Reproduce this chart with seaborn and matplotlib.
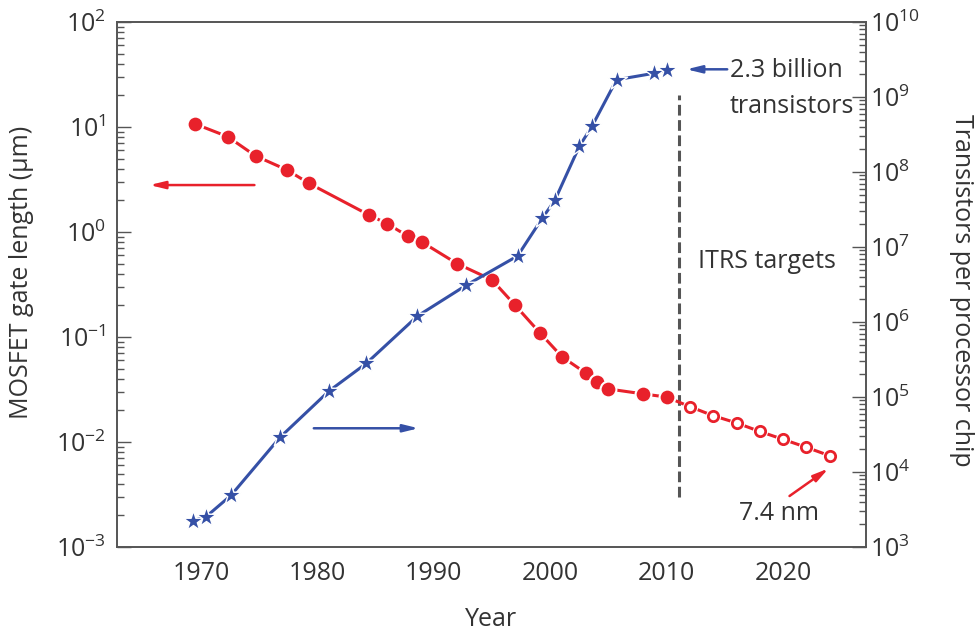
import matplotlib
matplotlib.use("Agg")
import matplotlib.pyplot as plt
import matplotlib.ticker as mticker
import seaborn as sns

# data
gate_years = [1969.5, 1972.3, 1974.7, 1977.4, 1979.3, 1984.4, 1986.0, 1987.8, 1989.0,
              1992.0, 1995.0, 1997.0, 1999.1, 2001.0, 2003.1, 2004.0, 2005.0, 2008.0, 2010.0]
gate_um = [10.7, 8.1, 5.3, 3.9, 2.9, 1.46, 1.2, 0.91, 0.80,
           0.50, 0.35, 0.20, 0.11, 0.065, 0.045, 0.037, 0.032, 0.0287, 0.0268]
itrs_years = [2012, 2014, 2016, 2018, 2020, 2022, 2024]
itrs_um = [0.0217, 0.0178, 0.0152, 0.0126, 0.0106, 0.0089, 0.0074]

chip_years = [1969.3, 1970.4, 1972.6, 1976.8, 1981.0, 1984.2, 1988.6, 1992.8,
              1997.2, 1999.3, 2000.4, 2002.5, 2003.6, 2005.7, 2008.9, 2010.0]
chip_count = [2250, 2500, 4900, 2.9e4, 1.2e5, 2.8e5, 1.2e6, 3.1e6,
              7.6e6, 2.4e7, 4.2e7, 2.2e8, 4.1e8, 1.7e9, 2.07e9, 2.3e9]

RED = "#e8212b"
BLUE = "#3550a6"
TEXT = "#333333"
AXC = "#555555"

sns.set_style("white")
plt.rcParams["font.family"] = ["Open Sans", "DejaVu Sans"]
plt.rcParams.update({"mathtext.fontset": "custom", "mathtext.rm": "Open Sans",
                     "mathtext.it": "Open Sans:italic", "mathtext.bf": "Open Sans:bold",
                     "text.color": TEXT, "axes.labelcolor": TEXT,
                     "xtick.color": AXC, "ytick.color": AXC,
                     "xtick.labelcolor": TEXT, "ytick.labelcolor": TEXT})
FS = 18

fig = plt.figure(figsize=(9.75, 6.34), dpi=100)
ax = fig.add_axes([0.12, 0.1372, 0.768, 0.8281])
ax2 = ax.twinx()

# gate length (left axis)
sns.lineplot(x=gate_years + itrs_years, y=gate_um + itrs_um, color=RED,
             lw=2.2, ax=ax, zorder=2)
sns.scatterplot(x=gate_years, y=gate_um, color=RED, s=130, edgecolor="white",
                linewidth=1.5, ax=ax, zorder=3)
sns.scatterplot(x=itrs_years, y=itrs_um, color="white", s=120,
                edgecolor="white", linewidth=0, ax=ax, zorder=3)
sns.scatterplot(x=itrs_years, y=itrs_um, color="white", s=55,
                edgecolor=RED, linewidth=2, ax=ax, zorder=4)

# transistor count (right axis)
sns.lineplot(x=chip_years, y=chip_count, color=BLUE, lw=2.2, ax=ax2, zorder=2)
sns.scatterplot(x=chip_years, y=chip_count, color=BLUE, marker="*", s=230,
                edgecolor="white", linewidth=1.0, ax=ax2, zorder=3)

ax.set_yscale("log")
ax2.set_yscale("log")
ax.set_xlim(1962.8, 2027.1)
ax.set_ylim(1e-3, 1e2)
ax2.set_ylim(1e3, 1e10)

ax.vlines(2011.1, 0.003, 20, colors=AXC, linestyles=(0, (3.5, 1.5)), lw=2.2, zorder=1)

# arrows
arrow_red = dict(arrowstyle="-|>,head_length=0.9,head_width=0.22", color=RED, lw=1.8,
                 shrinkA=0, shrinkB=0)
arrow_blue = dict(arrowstyle="-|>,head_length=0.9,head_width=0.22", color=BLUE, lw=1.8,
                  shrinkA=0, shrinkB=0)
ax.annotate("", xy=(1965.6, 2.8), xytext=(1974.6, 2.8), arrowprops=arrow_red)
ax2.annotate("", xy=(1988.7, 3.83e4), xytext=(1979.7, 3.83e4), arrowprops=arrow_blue)
ax2.annotate("", xy=(2011.7, 2.34e9), xytext=(2015.2, 2.34e9), arrowprops=arrow_blue)
ax.annotate("", xy=(2023.9, 0.0056), xytext=(2020.55, 0.00306), arrowprops=arrow_red)

ax.text(2015.4, 34.9, "2.3 billion", fontsize=FS, va="center", ha="left")
ax.text(2015.4, 15.6, "transistors", fontsize=FS, va="center", ha="left")
ax.text(2012.7, 0.52, "ITRS targets", fontsize=FS, va="center", ha="left")
ax.text(2016.2, 0.0021, "7.4 nm", fontsize=FS, va="center", ha="left")

# ticks
ax.xaxis.set_major_locator(mticker.MultipleLocator(10))
ax.xaxis.set_minor_locator(mticker.MultipleLocator(5))
ax.tick_params(axis="x", which="both", direction="in", length=8, width=1, labelsize=FS, pad=10)
for a in (ax, ax2):
    a.yaxis.set_major_locator(mticker.LogLocator(base=10, numticks=12))
    a.yaxis.set_minor_locator(mticker.LogLocator(base=10, subs=range(2, 10), numticks=12))
    a.yaxis.set_minor_formatter(mticker.NullFormatter())
    a.xaxis.offsetText.set_visible(False)
ax.tick_params(axis="y", which="major", direction="in", length=10, width=1, labelsize=FS, pad=8)
ax.tick_params(axis="y", which="minor", direction="in", length=5, width=1)
ax2.tick_params(axis="y", which="major", direction="in", length=10, width=1, labelsize=FS, pad=3)
ax2.tick_params(axis="y", which="minor", direction="in", length=5, width=1)
ax.tick_params(top=False, right=False, which="both")
ax2.tick_params(axis="x", which="both", bottom=False, top=False,
                labelbottom=False, labeltop=False)

for a in (ax, ax2):
    for sp in a.spines.values():
        sp.set_color(AXC)
        sp.set_linewidth(1.2)

ax.set_xlabel("Year", fontsize=FS, va="center")
ax.xaxis.set_label_coords(0.5, -0.139)
ax.set_ylabel("MOSFET gate length (μm)", fontsize=FS, va="center")
ax.yaxis.set_label_coords(-0.127, 0.524)
ax2.set_ylabel("Transistors per processor chip", fontsize=FS, rotation=270, va="center")
ax2.yaxis.set_label_coords(1.128, 0.488)

fig.savefig("out.png", dpi=100)
